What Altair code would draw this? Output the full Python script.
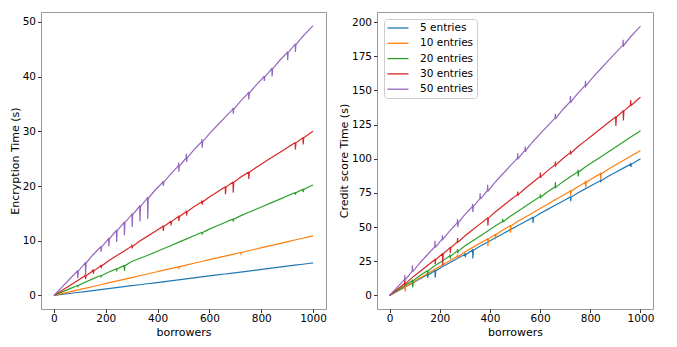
import altair as alt
import pandas as pd

borrowers = [0, 30, 60, 90, 120, 150, 180, 210, 240, 270, 300, 330, 360, 390, 420, 450, 480,
             510, 540, 570, 600, 630, 660, 690, 720, 750, 780, 810, 840, 870, 900, 930, 960, 990, 1000]
series_names = ["5 entries", "10 entries", "20 entries", "30 entries", "50 entries"]
series_colors = ["#1f77b4", "#ff7f0e", "#2ca02c", "#d62728", "#9467bd"]

# Encryption time (left panel)
enc_5 = [0, 0.2, 0.36, 0.54, 0.71, 0.89, 1.07, 1.25, 1.43, 1.61, 1.79, 1.96, 2.14, 2.32, 2.5, 2.68, 2.86,
         3.03, 3.21, 3.39, 3.57, 3.75, 3.93, 4.1, 4.28, 4.46, 4.64, 4.82, 5.0, 5.18, 5.36, 5.53, 5.71, 5.89, 5.95]
enc_10 = [0, 0.33, 0.65, 0.98, 1.31, 1.64, 1.96, 2.29, 2.62, 2.94, 3.27, 3.6, 3.92, 4.25, 4.58, 4.9, 5.23,
          5.56, 5.89, 6.21, 6.54, 6.87, 7.19, 7.52, 7.85, 8.18, 8.5, 8.83, 9.16, 9.48, 9.81, 10.14, 10.46, 10.79, 10.9]
enc_20 = [0, 0.61, 1.21, 1.82, 2.42, 3.03, 3.64, 4.24, 4.85, 5.45, 6.2, 6.75, 7.3, 7.9, 8.5, 9.1, 9.7,
          10.3, 10.91, 11.51, 12.12, 12.73, 13.33, 13.94, 14.54, 15.15, 15.76, 16.36, 16.97, 17.57, 18.18, 18.79, 19.39, 20.0, 20.2]
enc_30 = [0, 0.9, 1.8, 2.7, 3.6, 4.5, 5.4, 6.3, 7.2, 8.1, 9.0, 9.9, 10.8, 11.7, 12.6, 13.5, 14.4,
          15.3, 16.2, 17.1, 18.0, 18.9, 19.8, 20.7, 21.6, 22.5, 23.4, 24.3, 25.2, 26.1, 27.0, 27.9, 28.8, 29.7, 30.0]
enc_50 = [0, 1.48, 2.96, 4.44, 5.92, 7.4, 8.87, 10.35, 11.83, 13.31, 14.79, 16.27, 17.75, 19.23, 20.71, 22.19, 23.66,
          25.14, 26.62, 28.1, 29.58, 31.06, 32.54, 34.02, 35.5, 36.98, 38.45, 39.93, 41.41, 42.89, 44.37, 45.85, 47.33, 48.81, 49.3]

# spikes: borrowers -> (peak, dip)
enc_spikes_5 = {}
enc_spikes_10 = {480: (5.23, 5.0), 720: (7.85, 7.6)}
enc_spikes_20 = {90: (1.82, 1.5), 180: (3.64, 3.3), 240: (4.85, 4.4), 270: (5.45, 4.5), 570: (11.51, 11.1),
                 690: (13.94, 13.5), 930: (18.79, 18.4), 960: (19.39, 18.9)}
enc_spikes_30 = {120: (3.9, 3.0), 150: (4.8, 4.0), 180: (5.6, 5.0), 300: (9.3, 8.6), 420: (12.8, 11.8),
                 450: (13.6, 12.8), 480: (14.6, 13.6), 510: (15.5, 14.6), 570: (17.4, 16.6), 660: (19.9, 18.5),
                 690: (20.8, 18.8), 750: (22.6, 21.3), 930: (28.0, 26.7), 960: (28.9, 27.6)}
enc_spikes_50 = {90: (4.6, 3.2), 120: (6.1, 3.6), 180: (9.0, 8.0), 210: (10.5, 9.0), 240: (12.0, 9.8),
                 270: (13.5, 11.0), 300: (15.0, 12.5), 330: (16.5, 13.5), 360: (18.0, 14.0), 420: (20.9, 20.0),
                 480: (24.3, 22.6), 510: (25.9, 24.4), 570: (28.6, 27.0), 690: (34.3, 33.2), 750: (37.2, 35.8),
                 810: (40.1, 39.2), 840: (41.6, 40.0), 900: (44.6, 43.0), 930: (46.0, 44.5)}

# Credit score time (right panel)
cs_5 = [0, 3, 6, 9, 12, 15, 18, 21, 24, 27, 30, 33, 36, 39, 42, 45, 48,
        51, 54, 57, 60, 63, 66, 69, 72, 75, 78, 81, 84, 87, 90, 93, 96, 99, 100]
cs_10 = [0, 3.2, 6.4, 9.5, 12.7, 15.9, 19.1, 22.3, 25.4, 28.6, 31.8, 35.0, 38.2, 41.3, 44.5, 47.7, 50.9,
         54.1, 57.2, 60.4, 63.6, 66.8, 70.0, 73.1, 76.3, 79.5, 82.7, 85.9, 89.0, 92.2, 95.4, 98.6, 101.8, 104.9, 106]
cs_20 = [0, 3.6, 7.2, 10.8, 14.5, 18.1, 21.7, 25.3, 28.9, 32.5, 36.2, 39.8, 43.4, 47.0, 50.6, 54.2, 57.8,
         61.5, 65.1, 68.7, 72.3, 75.9, 79.5, 83.1, 86.8, 90.4, 94.0, 97.6, 101.2, 104.8, 108.5, 112.1, 115.7, 119.3, 120.5]
cs_30 = [0, 4.35, 8.7, 13.05, 17.4, 21.75, 26.1, 30.45, 34.8, 39.15, 43.5, 47.85, 52.2, 56.55, 60.9, 65.25, 69.6,
         73.95, 78.3, 82.65, 87.0, 91.35, 95.7, 100.05, 104.4, 108.75, 113.1, 117.45, 121.8, 126.15, 130.5, 134.85, 139.2, 143.55, 145]
cs_50 = [0, 5.9, 11.8, 17.7, 23.6, 29.6, 35.5, 41.4, 47.3, 53.2, 59.1, 65.0, 70.9, 76.8, 82.7, 88.7, 94.6,
         100.5, 106.4, 112.3, 118.2, 124.1, 130.0, 135.9, 141.8, 147.8, 153.7, 159.6, 165.5, 171.4, 177.3, 183.2, 189.1, 195.0, 197]

cs_spikes_5 = {150: (16, 13), 180: (18.5, 13), 300: (31, 28), 330: (34, 27), 570: (57.5, 53), 720: (72.5, 69),
               840: (85, 83.5), 960: (97, 94)}
cs_spikes_10 = {60: (7, 3), 90: (10, 6), 270: (30, 28), 390: (42, 36), 420: (45, 41), 480: (51.5, 46),
                720: (77, 73), 780: (84, 79), 840: (90, 85)}
cs_spikes_20 = {90: (11, 6), 150: (18.5, 13), 240: (30, 27), 270: (34, 31), 450: (56, 54), 600: (74, 71),
                660: (83, 79), 750: (92, 87)}
cs_spikes_30 = {60: (12, 8), 180: (27, 23), 210: (31, 22), 240: (35.5, 31), 270: (42, 39), 390: (57, 51),
                510: (76, 73), 600: (90, 86), 660: (98, 95), 720: (106, 103), 900: (131, 124), 930: (135.5, 128),
                960: (143, 139)}
cs_spikes_50 = {60: (15, 11), 90: (22, 18), 180: (40, 36), 210: (44, 41), 270: (56, 50), 330: (67, 61),
                360: (75, 71), 390: (81, 76), 510: (104, 100), 540: (109, 105), 660: (133, 129), 720: (146, 141),
                780: (157, 153), 930: (187, 182)}


def build(values_list, spikes_list):
    rows = []
    for name, vals, spikes in zip(series_names, values_list, spikes_list):
        k = 0
        for b, v in zip(borrowers, vals):
            rows.append({"series": name, "borrowers": b, "time": v, "k": k})
            k += 1
            if b in spikes:
                hi, lo = spikes[b]
                rows.append({"series": name, "borrowers": b + 1, "time": hi, "k": k}); k += 1
                rows.append({"series": name, "borrowers": b + 2, "time": lo, "k": k}); k += 1
                rows.append({"series": name, "borrowers": b + 4, "time": v, "k": k}); k += 1
    return pd.DataFrame(rows)


enc_df = build([enc_5, enc_10, enc_20, enc_30, enc_50],
               [enc_spikes_5, enc_spikes_10, enc_spikes_20, enc_spikes_30, enc_spikes_50])
cs_df = build([cs_5, cs_10, cs_20, cs_30, cs_50],
              [cs_spikes_5, cs_spikes_10, cs_spikes_20, cs_spikes_30, cs_spikes_50])

x_ticks = [0, 200, 400, 600, 800, 1000]


def panel(df, ytitle, ydomain, yticks, width, legend):
    return alt.Chart(df).mark_line(strokeWidth=1.2, clip=True).encode(
        x=alt.X("borrowers:Q", title="borrowers",
                scale=alt.Scale(domain=[-50, 1050], nice=False, zero=False),
                axis=alt.Axis(values=x_ticks, format="d")),
        y=alt.Y("time:Q", title=ytitle,
                scale=alt.Scale(domain=ydomain, nice=False, zero=False),
                axis=alt.Axis(values=yticks, format="d")),
        color=alt.Color("series:N", scale=alt.Scale(domain=series_names, range=series_colors),
                        legend=legend),
        order="k:Q",
        detail="series:N",
    ).properties(width=width, height=297)


left = panel(enc_df, "Encryption Time (s)", [-2.47, 51.8], [0, 10, 20, 30, 40, 50], 285, None)
right = panel(cs_df, "Credit score Time (s)", [-9.9, 207.4], [0, 25, 50, 75, 100, 125, 150, 175, 200], 276,
              alt.Legend(title=None, orient="top-left", offset=7, symbolType="M-2,0H2", symbolSize=110,
                         symbolOffset=5, symbolStrokeWidth=1.3, labelFontSize=10.5, labelFont="DejaVu Sans",
                         labelColor="#000", rowPadding=3.3, labelOffset=16, labelLimit=200, fillColor="white",
                         strokeColor="#cccccc", cornerRadius=3, padding=3))

chart = alt.hconcat(left, right, spacing=10).resolve_scale(color="independent").properties(
    padding={"left": 0, "top": 3, "right": 0, "bottom": 0}
).configure_view(stroke="#999999", strokeWidth=1).configure_axis(
    grid=False, domain=False, tickColor="#333", tickSize=3.5, labelFont="DejaVu Sans", labelFontSize=10.5,
    labelColor="#000", titleFont="DejaVu Sans", titleFontSize=11, titleFontWeight="normal", titleColor="#000",
    titlePadding=2
).configure_axisY(labelFlush=False, labelPadding=2).configure_axisX(labelFlush=False, labelPadding=1)

chart.save("out.html", embed_options={"renderer": "svg", "actions": False})
